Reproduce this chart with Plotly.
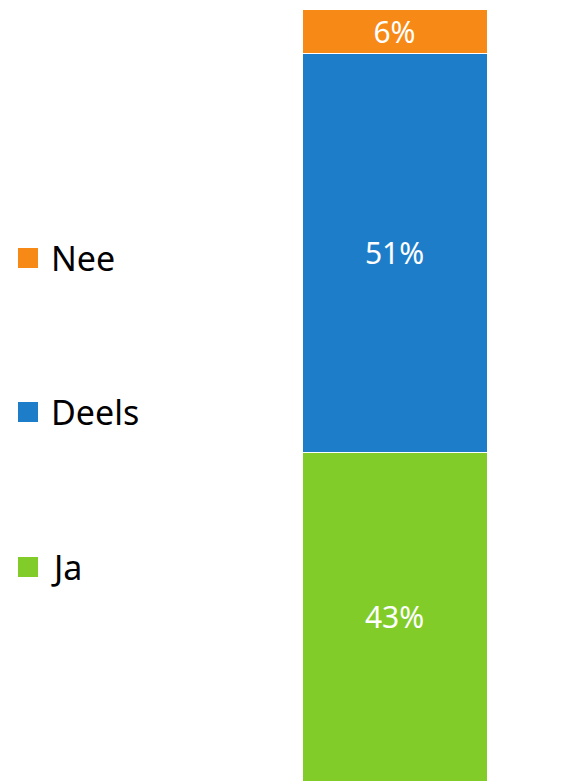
import plotly.graph_objects as go

categories = ["Ja", "Deels", "Nee"]
values = [42.6, 51.7, 5.7]
labels = ["43%", "51%", "6%"]
colors = ["#82CC29", "#1E7DC9", "#F78917"]
legend_y_px = [567, 412, 258]

W, H = 572, 781
TOP = 9
plot_h = H - TOP

fig = go.Figure()
for cat, val, lab, col in zip(categories, values, labels, colors):
    fig.add_trace(go.Bar(
        x=[0], y=[val], width=1, name=cat,
        marker=dict(color=col, line=dict(color="white", width=1)),
        text=[lab], textposition="inside", insidetextanchor="middle",
        textfont=dict(color="white", size=30, family="Noto Sans"),
        constraintext="none", showlegend=False, hoverinfo="skip",
    ))

for cat, col, ypx in zip(categories, colors, legend_y_px):
    yc = (H - ypx) / plot_h
    half = 10 / plot_h
    fig.add_shape(type="rect", xref="paper", yref="paper",
                  x0=18 / W, x1=38 / W, y0=yc - half, y1=yc + half,
                  fillcolor=col, line=dict(width=0))
    fig.add_annotation(x=49 / W, y=yc, xref="paper", yref="paper",
                       text=cat, showarrow=False, xanchor="left", yanchor="middle",
                       font=dict(size=34, color="black", family="Noto Sans"))

fig.update_layout(
    width=W, height=H, barmode="stack",
    margin=dict(l=0, r=0, t=TOP, b=0),
    paper_bgcolor="white", plot_bgcolor="white",
    xaxis=dict(domain=[302 / W, 487 / W], range=[-0.5, 0.5], visible=False, fixedrange=True),
    yaxis=dict(range=[0, 100], visible=False, fixedrange=True),
    showlegend=False,
)
fig.write_html(
    "out.html",
    config={"displayModeBar": False},
    post_script="document.body.style.margin='0';document.body.style.overflow='hidden';",
)
